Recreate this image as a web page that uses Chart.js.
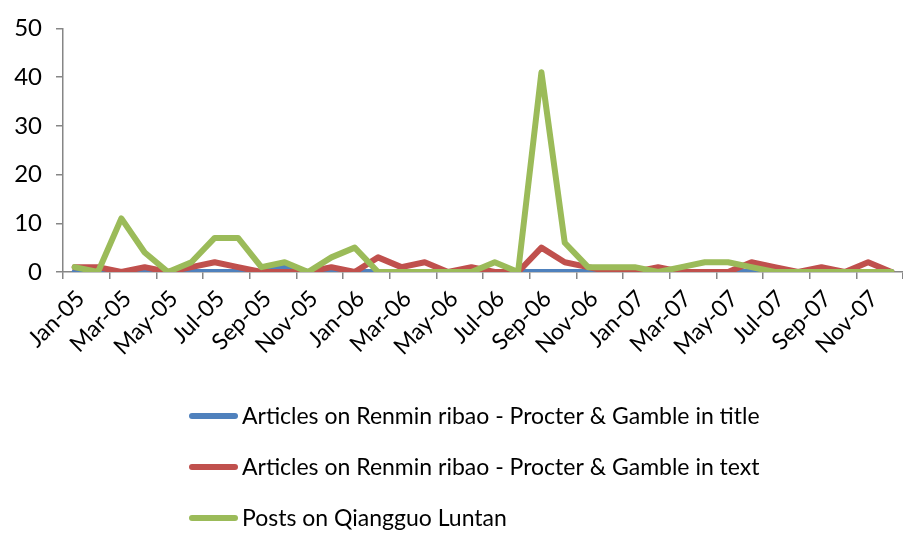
<!DOCTYPE html>
<html>
<head>
<meta charset="utf-8">
<script src="https://cdn.jsdelivr.net/npm/chart.js@4.4.1/dist/chart.umd.min.js"></script>
<style>
  html, body { margin: 0; padding: 0; background: #fff; overflow: hidden; }
  #wrap { width: 917px; height: 533px; }
</style>
</head>
<body>
<div id="wrap"><canvas id="myChart" width="917" height="533"></canvas></div>
<script>
// --- data ---
const months = [
    'Jan-05', 'Feb-05', 'Mar-05', 'Apr-05', 'May-05', 'Jun-05', 'Jul-05', 'Aug-05', 'Sep-05', 'Oct-05', 'Nov-05', 'Dec-05',
    'Jan-06', 'Feb-06', 'Mar-06', 'Apr-06', 'May-06', 'Jun-06', 'Jul-06', 'Aug-06', 'Sep-06', 'Oct-06', 'Nov-06', 'Dec-06',
    'Jan-07', 'Feb-07', 'Mar-07', 'Apr-07', 'May-07', 'Jun-07', 'Jul-07', 'Aug-07', 'Sep-07', 'Oct-07', 'Nov-07', 'Dec-07'
];
const articlesInTitle = [0, 0, 0, 0, 0, 0, 0, 0, 0, 1, 0, 0,  0, 0, 0, 0, 0, 0, 0, 0, 0, 0, 0, 0,  0, 0, 0, 0, 0, 0, 0, 0, 0, 0, 0, 0];
const articlesInText  = [1, 1, 0, 1, 0, 1, 2, 1, 0, 0, 0, 1,  0, 3, 1, 2, 0, 1, 0, 0, 5, 2, 1, 0,  0, 1, 0, 0, 0, 2, 1, 0, 1, 0, 2, 0];
const forumPosts      = [1, 0, 11, 4, 0, 2, 7, 7, 1, 2, 0, 3,  5, 0, 0, 0, 0, 0, 2, 0, 41, 6, 1, 1,  1, 0, 1, 2, 2, 1, 0, 0, 0, 0, 0, 0];
const yTicks = [0, 10, 20, 30, 40, 50];

const seriesNames = [
    'Articles on Renmin ribao - Procter & Gamble in title',
    'Articles on Renmin ribao - Procter & Gamble in text',
    'Posts on Qiangguo Luntan'
];

const axisGray = '#868686';
Chart.defaults.font.family = 'Lato, "Open Sans", sans-serif';
Chart.defaults.font.size = 23;
Chart.defaults.color = '#000';

// legend drawn as a vertical, left aligned list like the original
const listLegend = {
    id: 'listLegend',
    afterDraw(chart) {
        const c = chart.ctx;
        c.save();
        chart.data.datasets.forEach((ds, i) => {
            const y = 416 + i * 51;
            c.strokeStyle = ds.borderColor;
            c.lineWidth = 6;
            c.lineCap = 'round';
            c.beginPath();
            c.moveTo(192, y);
            c.lineTo(235, y);
            c.stroke();
            c.fillStyle = '#000';
            c.font = '23px Lato, "Open Sans", sans-serif';
            c.textBaseline = 'middle';
            c.fillText(ds.label, 242, y + 1);
        });
        c.restore();
    }
};

const ctx = document.getElementById('myChart');
new Chart(ctx, {
    type: 'line',
    data: {
        labels: months,
        datasets: [
            { label: seriesNames[0], data: articlesInTitle, borderColor: '#4F81BD', order: 2 },
            { label: seriesNames[1], data: articlesInText, borderColor: '#C0504D', order: 1 },
            { label: seriesNames[2], data: forumPosts, borderColor: '#9BBB59', order: 0 }
        ].map(d => Object.assign(d, {
            borderWidth: 6,
            pointRadius: 0,
            tension: 0,
            fill: false,
            borderJoinStyle: 'round',
            borderCapStyle: 'round'
        }))
    },
    options: {
        responsive: false,
        animation: false,
        devicePixelRatio: 1,
        layout: { padding: { top: 17, left: 0, right: 0, bottom: 0 } },
        scales: {
            x: {
                offset: true,
                afterFit: (scale) => { scale.height = 261; },
                border: { color: axisGray, width: 1.5 },
                grid: {
                    offset: true,
                    drawOnChartArea: false,
                    drawTicks: true,
                    tickLength: 7,
                    lineWidth: 1.5,
                    color: (c) => (c.index === undefined || c.index % 2 === 0) ? axisGray : 'rgba(0,0,0,0)'
                },
                ticks: {
                    autoSkip: false,
                    maxRotation: 45,
                    minRotation: 45,
                    padding: 6,
                    labelOffset: 6,
                    callback: function(value, index) {
                        return index % 2 === 0 ? this.getLabelForValue(value) : '';
                    }
                }
            },
            y: {
                min: 0,
                max: 50,
                afterFit: (scale) => { scale.width = 63; },
                afterBuildTicks: (scale) => { scale.ticks = yTicks.map(v => ({ value: v })); },
                border: { color: axisGray, width: 1.5 },
                grid: {
                    drawOnChartArea: false,
                    drawTicks: true,
                    tickLength: 7,
                    lineWidth: 1.5,
                    color: axisGray
                },
                ticks: { padding: 14, font: { size: 24 } }
            }
        },
        plugins: {
            legend: { display: false },
            tooltip: { enabled: false }
        }
    },
    plugins: [listLegend]
});
</script>
</body>
</html>
